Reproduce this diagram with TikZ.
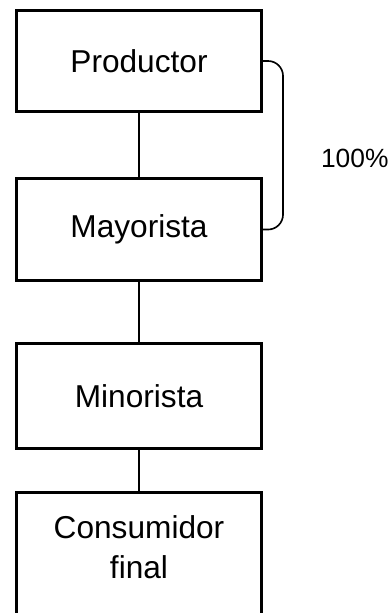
\documentclass[tikz,border=0pt]{standalone}
\usepackage{fontspec}
\setmainfont{Liberation Sans}
\usetikzlibrary{positioning}

\begin{document}
\begin{tikzpicture}[
    caja/.style={draw, rectangle, line width=2.6pt, minimum width=7.35cm, align=center, font=\fontsize{27}{34}\selectfont},
    linea/.style={line width=1.4pt},
    pct/.style={font=\fontsize{22.5}{28}\selectfont}
]
\clip (0,0) rectangle (11.73,-18.39);
\node[caja, minimum height=3.03cm] at (4.17,-1.83) (productor) {Productor};
\node[caja, minimum height=3.06cm, below=1.92cm of productor] (mayorista) {Mayorista};
\node[caja, minimum height=3.15cm, below=1.8cm of mayorista] (minorista) {Minorista};
\node[caja, minimum height=4.5cm, below=1.23cm of minorista] (consumidor) {};
\node[caja, draw=none, anchor=north, inner sep=0pt, minimum width=0pt] at ([yshift=-0.7cm]consumidor.north) (consumidortxt) {Consumidor\\final};
%==========
\draw[linea] (productor) -- (mayorista);
\draw[linea] (mayorista) -- (minorista);
\draw[linea] (minorista) -- (consumidor);
%==========
\draw[linea, rounded corners=0.45cm] (productor.east) -- ++(0.6,0) |- node[pct, pos=0.25, right=1.0cm, yshift=-0.38cm] (porcentaje) {100\%} (mayorista.east);
\end{tikzpicture}
\end{document}
